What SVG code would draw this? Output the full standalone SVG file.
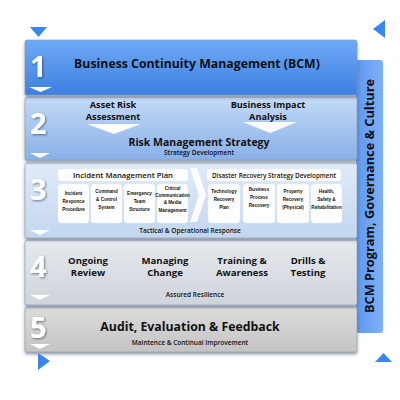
<svg xmlns="http://www.w3.org/2000/svg" width="400" height="400" viewBox="0 0 400 400">
<defs>
<linearGradient id="g1" x1="0" y1="0" x2="0" y2="1"><stop offset="0" stop-color="#6eaaf6"/><stop offset="1" stop-color="#3d7fe2"/></linearGradient>
<linearGradient id="g2" x1="0" y1="0" x2="0" y2="1"><stop offset="0" stop-color="#c4daf6"/><stop offset="1" stop-color="#88b0e8"/></linearGradient>
<linearGradient id="g3" x1="0" y1="0" x2="0" y2="1"><stop offset="0" stop-color="#e0ebf8"/><stop offset="1" stop-color="#c2d6ef"/></linearGradient>
<linearGradient id="g4" x1="0" y1="0" x2="0" y2="1"><stop offset="0" stop-color="#e6eaef"/><stop offset="1" stop-color="#cfd4da"/></linearGradient>
<linearGradient id="g5" x1="0" y1="0" x2="0" y2="1"><stop offset="0" stop-color="#dcdcdc"/><stop offset="1" stop-color="#c4c4c4"/></linearGradient>
<linearGradient id="gs" x1="0" y1="0" x2="1" y2="0"><stop offset="0" stop-color="#5e98f0"/><stop offset="1" stop-color="#7eb0f6"/></linearGradient>
<filter id="sh" x="-5%" y="-10%" width="110%" height="130%"><feDropShadow dx="0" dy="2" stdDeviation="1.5" flood-color="#304060" flood-opacity="0.55"/></filter>
<filter id="ts" x="-20%" y="-20%" width="140%" height="140%"><feDropShadow dx="1" dy="1" stdDeviation="0.8" flood-color="#203040" flood-opacity="0.6"/></filter>
</defs>
<style>
.band{stroke:#8a9ab0;stroke-width:0.6}
.num{font-family:"Open Sans","DejaVu Sans",sans-serif;font-weight:bold;font-size:29px;fill:#fff}
.t{font-family:"Open Sans","DejaVu Sans",sans-serif;font-weight:bold;fill:#111;text-anchor:middle}
.big{font-size:12.3px}
.mid{font-size:9.6px}
.mid2{font-size:9.2px}
.sm{font-size:6.5px;font-weight:600}
.tiny{font-family:"Liberation Sans",Arial,sans-serif;font-weight:bold;font-size:4.6px;fill:#111;text-anchor:middle}
.box{fill:#fff;stroke:#e8eef6;stroke-width:0.5}
.chev{fill:#fff}
.tri{fill:#3a86ec}
</style>
<rect width="400" height="400" fill="#fff"/>

<g id="side-bar">
<rect x="356" y="60" width="27" height="273" rx="3" fill="url(#gs)"/>
<text transform="translate(374,196) rotate(-90)" class="t" style="font-size:12px" textLength="234" lengthAdjust="spacingAndGlyphs">BCM Program, Governance &amp; Culture</text>
</g>

<g id="band5">
<rect class="band" x="25" y="307" width="332" height="45" rx="2" fill="url(#g5)" filter="url(#sh)"/>
<text class="num" x="30" y="338" filter="url(#ts)">5</text>
<path class="chev" d="M30,344 L50,344 L40,349 Z"/>
<text class="t big" x="190" y="331">Audit, Evaluation &amp; Feedback</text>
<text class="t sm" x="190" y="345">Maintence &amp; Continual Improvement</text>
</g>

<g id="band4">
<rect class="band" x="25" y="240" width="332" height="65" rx="2" fill="url(#g4)" filter="url(#sh)"/>
<text class="num" x="30" y="277" filter="url(#ts)">4</text>
<path class="chev" d="M30,295 L50,295 L40,300 Z"/>
<text class="t mid" x="88" y="264">Ongoing</text>
<text class="t mid" x="88" y="276">Review</text>
<text class="t mid" x="165" y="264">Managing</text>
<text class="t mid" x="165" y="276">Change</text>
<text class="t mid" x="242" y="264">Training &amp;</text>
<text class="t mid" x="242" y="276">Awareness</text>
<text class="t mid" x="308" y="264">Drills &amp;</text>
<text class="t mid" x="308" y="276">Testing</text>
<text class="t sm" x="195" y="297">Assured Resilience</text>
</g>

<g id="band3">
<rect class="band" x="25" y="163" width="332" height="75" rx="2" fill="url(#g3)" filter="url(#sh)"/>
<text class="num" x="30" y="200" filter="url(#ts)">3</text>
<path class="chev" d="M30,230 L50,230 L40,235 Z"/>
<path class="chev" d="M190,168 L197,168 L206,195 L197,222 L190,222 L199,195 Z" opacity="0.9"/>
<rect class="box" x="58" y="169" width="130" height="12" rx="3"/>
<text class="t" x="123" y="178" style="font-size:7px;font-weight:600" textLength="100" lengthAdjust="spacingAndGlyphs">Incident Management Plan</text>
<rect class="box" x="58" y="184" width="31" height="39" rx="3"/>
<rect class="box" x="91" y="184" width="31" height="39" rx="3"/>
<rect class="box" x="124" y="184" width="31" height="39" rx="3"/>
<rect class="box" x="157" y="184" width="31" height="39" rx="3"/>
<text class="tiny" x="73.5" y="195">Incident</text>
<text class="tiny" x="73.5" y="203">Responce</text>
<text class="tiny" x="73.5" y="211">Procedure</text>
<text class="tiny" x="106.5" y="193">Command</text>
<text class="tiny" x="106.5" y="201">&amp; Control</text>
<text class="tiny" x="106.5" y="209">System</text>
<text class="tiny" x="139.5" y="195">Emergency</text>
<text class="tiny" x="139.5" y="203">Team</text>
<text class="tiny" x="139.5" y="211">Structure</text>
<text class="tiny" x="172.5" y="190">Critical</text>
<text class="tiny" x="172.5" y="197">Communication</text>
<text class="tiny" x="172.5" y="204">&amp; Media</text>
<text class="tiny" x="172.5" y="212">Management</text>
<rect class="box" x="207" y="169" width="134" height="12" rx="3"/>
<text class="t" x="274" y="178" style="font-size:7px;font-weight:600" textLength="124" lengthAdjust="spacingAndGlyphs">Disaster Recovery Strategy Development</text>
<rect class="box" x="208" y="184" width="32" height="39" rx="3"/>
<rect class="box" x="243" y="184" width="32" height="39" rx="3"/>
<rect class="box" x="277" y="184" width="32" height="39" rx="3"/>
<rect class="box" x="311" y="184" width="31" height="39" rx="3"/>
<text class="tiny" x="224" y="193">Technology</text>
<text class="tiny" x="224" y="201">Recovery</text>
<text class="tiny" x="224" y="209">Plan</text>
<text class="tiny" x="259" y="191">Business</text>
<text class="tiny" x="259" y="199">Process</text>
<text class="tiny" x="259" y="207">Recovery</text>
<text class="tiny" x="293" y="193">Property</text>
<text class="tiny" x="293" y="201">Recovery</text>
<text class="tiny" x="293" y="209">(Physical)</text>
<text class="tiny" x="326.5" y="193">Health,</text>
<text class="tiny" x="326.5" y="201">Safety &amp;</text>
<text class="tiny" x="326.5" y="209">Rehabilitation</text>
<text class="t sm" x="190" y="233">Tactical &amp; Operational Response</text>
</g>

<g id="band2">
<rect class="band" x="25" y="97" width="332" height="63" rx="2" fill="url(#g2)" filter="url(#sh)"/>
<text class="num" x="30" y="134" filter="url(#ts)">2</text>
<path class="chev" d="M30,153 L50,153 L40,158 Z"/>
<text class="t mid2" x="113" y="108">Asset Risk</text>
<text class="t mid2" x="113" y="120">Assessment</text>
<path class="chev" d="M87,124 L141,124 L114,134 Z" opacity="0.95"/>
<text class="t mid2" x="268" y="108">Business Impact</text>
<text class="t mid2" x="268" y="120">Analysis</text>
<path class="chev" d="M243,122 L297,122 L270,133 Z" opacity="0.95"/>
<text class="t" x="199" y="146" style="font-size:10.5px">Risk Management Strategy</text>
<text class="t sm" x="199" y="155">Strategy Development</text>
</g>

<g id="band1">
<rect class="band" x="25" y="40" width="332" height="55" rx="2" fill="url(#g1)" filter="url(#sh)"/>
<text class="num" x="30" y="77" filter="url(#ts)">1</text>
<path class="chev" d="M29,87 L52,87 L40.5,92 Z"/>
<text class="t big" x="197" y="68">Business Continuity Management (BCM)</text>
</g>

<g id="markers">
<path class="tri" d="M30,27 L47,27 L38.5,37 Z"/>
<path class="tri" d="M385,20 L385,38 L373,29 Z"/>
<path class="tri" d="M38,353 L50,361 L38,370 Z"/>
<path class="tri" d="M375,362 L392,362 L383.5,353 Z"/>
</g>
</svg>
